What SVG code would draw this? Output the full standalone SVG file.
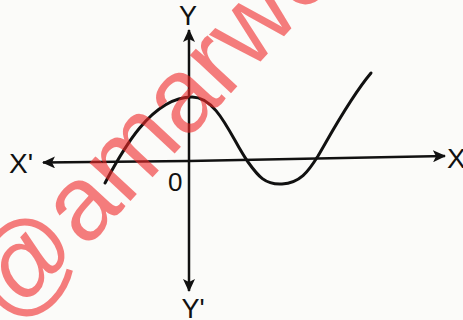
<svg xmlns="http://www.w3.org/2000/svg" width="463" height="320" viewBox="0 0 463 320">
<style>
.lbl{font-family:"Liberation Sans",Arial,sans-serif;fill:#111;}
.ax{stroke:#111;stroke-width:2.5;fill:none;}
.crv{stroke:#111;stroke-width:3;fill:none;stroke-linecap:round;}
.wm{font-family:"Liberation Sans",Arial,sans-serif;font-size:106px;fill:#f02828;fill-opacity:0.6;}
</style>
<defs>
<marker id="ah" viewBox="0 0 13 12" refX="12" refY="6" markerWidth="13" markerHeight="12" markerUnits="userSpaceOnUse" orient="auto">
<path d="M0,0 L13,6 L0,12 L3,6 Z" fill="#111"/>
</marker>
</defs>
<rect width="463" height="320" fill="#fbfbf9"/>
<g id="connectors">
<line id="x-axis-right" class="ax" x1="189" y1="161" x2="445" y2="156" marker-end="url(#ah)"/>
<line id="x-axis-left" class="ax" x1="189" y1="161" x2="43" y2="162.5" marker-end="url(#ah)"/>
<line id="y-axis-up" class="ax" x1="189" y1="161" x2="189" y2="30" marker-end="url(#ah)"/>
<line id="y-axis-down" class="ax" x1="189" y1="161" x2="189" y2="291" marker-end="url(#ah)"/>
</g>
<g id="curve">
<path class="crv" d="M105,183 C120,155 150,97 192,97 C218,97 232,140 248,162 C258,176 265,185 282,184 C300,183 308,172 318,156 C332,132 350,98 371,73"/>
</g>
<g id="label-Y"><text class="lbl" x="188" y="25" font-size="27" text-anchor="middle">Y</text></g>
<g id="label-Y-prime"><text class="lbl" x="193" y="318" font-size="27" text-anchor="middle">Y'</text></g>
<g id="label-X-prime"><text class="lbl" x="9" y="173" font-size="28">X'</text></g>
<g id="label-X"><text class="lbl" x="447" y="168" font-size="28">X</text></g>
<g id="label-O"><text class="lbl" x="168" y="191" font-size="26">0</text></g>
<g id="watermark"><text class="wm" transform="translate(12,328) rotate(-47)">@amarwe</text></g>
</svg>
